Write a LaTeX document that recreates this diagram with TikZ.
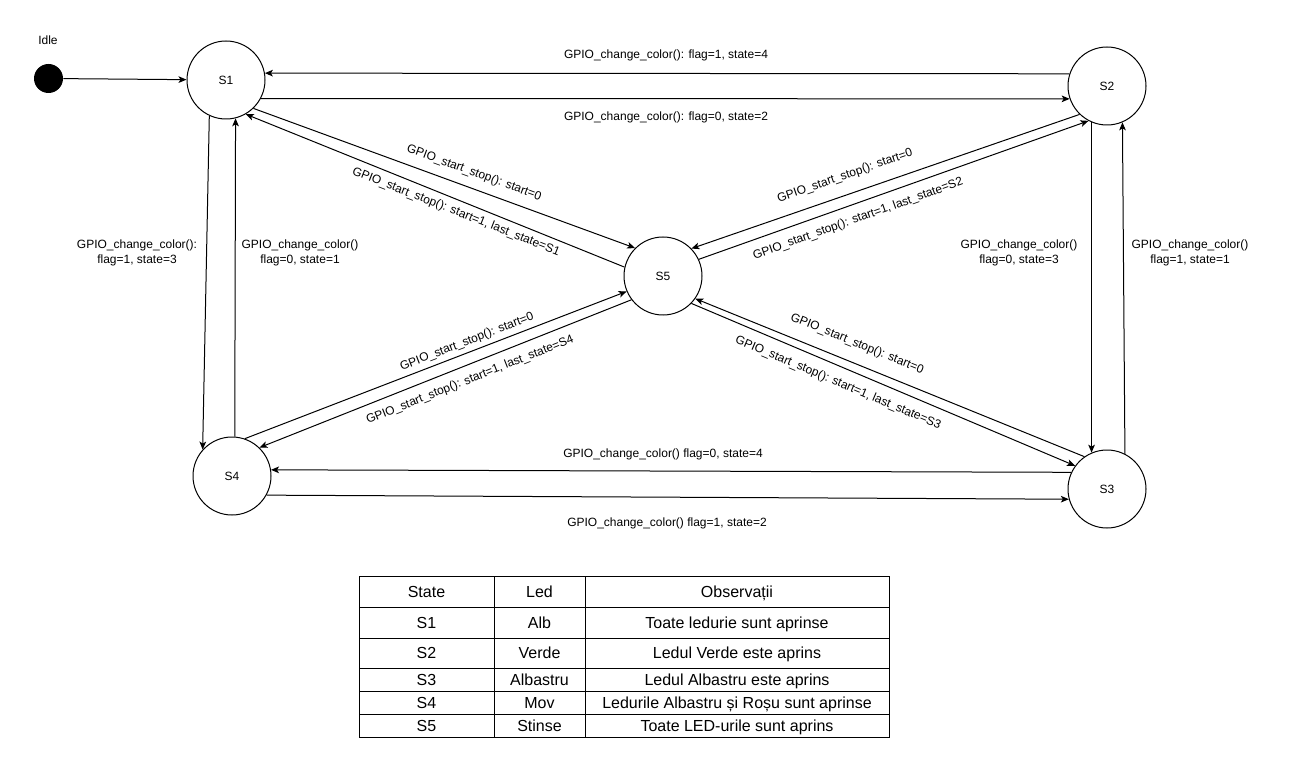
\documentclass[tikz,border=0pt]{standalone}
\usepackage{fontspec}
\setmainfont{Liberation Sans}
\usetikzlibrary{arrows.meta}
\begin{document}
\begin{tikzpicture}[x=0.75pt,y=-0.75pt,
  state/.style={circle,draw,line width=0.75pt,minimum size=58.5pt,inner sep=0pt,font=\fontsize{9}{11}\selectfont},
  dot/.style={circle,fill=black,minimum size=21.75pt,inner sep=0pt},
  arr/.style={line width=0.75pt,-{Stealth[length=6pt,width=5pt,inset=1.5pt]}},
  lbl/.style={font=\fontsize{9}{11.25}\selectfont,inner sep=0pt,align=center},
  cell/.style={font=\fontsize{12}{14}\selectfont,inner sep=0pt,text height=8.6pt,text depth=0pt},
  grid/.style={line width=0.75pt,draw=black}
]
\fill[white] (0,0) rectangle (1289,759);
\useasboundingbox (0,0) rectangle (1289,759);

% states
\node[dot] (idle) at (48.5,78.5) {};
\node[lbl] (idlelbl) at (48,40) {Idle};
\node[state] (s1) at (226,80) {S1};
\node[state] (s2) at (1107,86) {S2};
\node[state] (s5) at (663,276) {S5};
\node[state] (s4) at (232,476) {S4};
\node[state] (s3) at (1107,489) {S3};

% connectors
\draw[arr] (idle) -- (s1);
\draw[arr] (s2.162) -- (s1.10);
\draw[arr] (s1.-28) -- (s2.-161);
\draw[arr] (s1.-115) -- (s4.138);
\draw[arr] (s4.86) -- (s1.-76);
\draw[arr] (s2.-113) -- (s3.113);
\draw[arr] (s3.63) -- (s2.-67);
\draw[arr] (s3.155) -- (s4.9);
\draw[arr] (s4.-29) -- (s3.-165);
\draw[arr] (s1.-46) -- (s5.135);
\draw[arr] (s5.167) -- (s1.-60);
\draw[arr] (s2.-134) -- (s5.44);
\draw[arr] (s5.25) -- (s2.-118);
\draw[arr] (s4.71) -- (s5.-157);
\draw[arr] (s5.-143) -- (s4.46);
\draw[arr] (s3.125) -- (s5.-35);
\draw[arr] (s5.-44) -- (s3.144);

% labels
\node[lbl] (l21) at (666,55) {GPIO\_change\_color(): flag=1, state=4};
\node[lbl] (l12) at (666,117) {GPIO\_change\_color(): flag=0, state=2};
\node[lbl] (l14) at (137,252.5) {GPIO\_change\_color():\\flag=1, state=3};
\node[lbl] (l41) at (300,252.5) {GPIO\_change\_color()\\flag=0, state=1};
\node[lbl] (l23) at (1019,252.5) {GPIO\_change\_color()\\flag=0, state=3};
\node[lbl] (l32) at (1190,252.5) {GPIO\_change\_color()\\flag=1, state=1};
\node[lbl] (l34) at (663,454) {GPIO\_change\_color() flag=0, state=4};
\node[lbl] (l43) at (667,523) {GPIO\_change\_color() flag=1, state=2};

\node[lbl,rotate=-20.2] (l15) at (474,173) {GPIO\_start\_stop(): start=0};
\node[lbl,rotate=-21.5] (l51) at (456,212) {GPIO\_start\_stop(): start=1, last\_state=S1};
\node[lbl,rotate=19] (l25) at (845,176) {GPIO\_start\_stop(): start=0};
\node[lbl,rotate=19.6] (l52) at (858,219) {GPIO\_start\_stop(): start=1, last\_state=S2};
\node[lbl,rotate=21] (l45) at (467,342) {GPIO\_start\_stop(): start=0};
\node[lbl,rotate=21.6] (l54) at (470,380) {GPIO\_start\_stop(): start=1, last\_state=S4};
\node[lbl,rotate=-22] (l35) at (857,344) {GPIO\_start\_stop(): start=0};
\node[lbl,rotate=-22.9] (l53) at (838,383) {GPIO\_start\_stop(): start=1, last\_state=S3};

% table
\draw[grid] (359,576) rectangle (889,737);
\foreach \yy in {607,638,668,691,714} \draw[grid] (359,\yy) -- (889,\yy);
\foreach \xx in {494,585} \draw[grid] (\xx,576) -- (\xx,737);

\node[cell] (h1) at (426.5,591.5) {State};
\node[cell] (h2) at (539.5,591.5) {Led};
\node[cell] (h3) at (737,591.5) {Observații};
\node[cell] (a1) at (426.5,622.5) {S1};
\node[cell] (a2) at (539.5,622.5) {Alb};
\node[cell] (a3) at (737,622.5) {Toate ledurie sunt aprinse};
\node[cell] (b1) at (426.5,653) {S2};
\node[cell] (b2) at (539.5,653) {Verde};
\node[cell] (b3) at (737,653) {Ledul Verde este aprins};
\node[cell] (c1) at (426.5,679.5) {S3};
\node[cell] (c2) at (539.5,679.5) {Albastru};
\node[cell] (c3) at (737,679.5) {Ledul Albastru este aprins};
\node[cell] (d1) at (426.5,702.5) {S4};
\node[cell] (d2) at (539.5,702.5) {Mov};
\node[cell] (d3) at (737,702.5) {Ledurile Albastru și Roșu sunt aprinse};
\node[cell] (e1) at (426.5,725.5) {S5};
\node[cell] (e2) at (539.5,725.5) {Stinse};
\node[cell] (e3) at (737,725.5) {Toate LED-urile sunt aprins};
\end{tikzpicture}
\end{document}
